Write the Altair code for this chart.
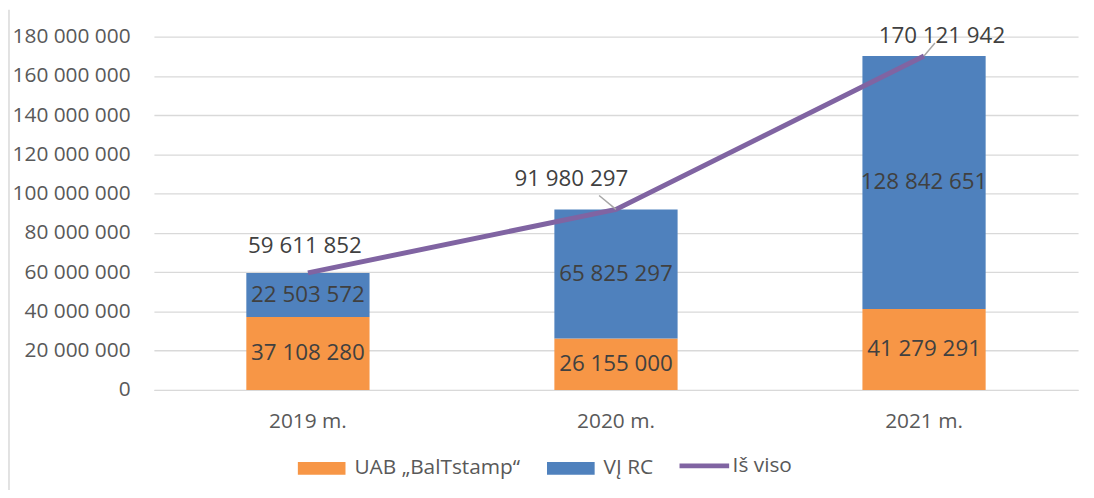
import altair as alt
import pandas as pd

years = ["2019 m.", "2020 m.", "2021 m."]
series = ["UAB „BalTstamp“", "VĮ RC"]
balt = [37108280, 26155000, 41279291]
vjrc = [22503572, 65825297, 128842651]
total = [59611852, 91980297, 170121942]
line_name = "Iš viso"
y_ticks = [0, 20000000, 40000000, 60000000, 80000000, 100000000,
           120000000, 140000000, 160000000, 180000000]

colors_bar = ["#F79646", "#4F81BD"]
color_line = "#8064A2"
FONT = "Open Sans"
AX = 21
DL = 22.5

rows = []
for i, y in enumerate(years):
    rows.append({"year": y, "series": series[0], "value": balt[i], "ord": 0})
    rows.append({"year": y, "series": series[1], "value": vjrc[i], "ord": 1})
bars_df = pd.DataFrame(rows)
tot_df = pd.DataFrame({"year": years, "total": total, "series": [line_name] * 3})

fmt = "replace(replace(replace(format(%s, ','), ',', ' '), ',', ' '), ',', ' ')"

x_axis = alt.Axis(labelAngle=0, labelFontSize=AX, labelColor="#595959",
                  labelFont=FONT, ticks=False, domain=True, grid=False,
                  domainColor="#d9d9d9", labelPadding=21)
y_axis = alt.Axis(values=y_ticks, labelExpr=fmt % "datum.value",
                  labelFontSize=AX, labelColor="#595959", labelFont=FONT,
                  labelOverlap=False,
                  ticks=False, domain=False, gridColor="#d9d9d9",
                  gridWidth=1.3, labelPadding=24)
x_scale = alt.Scale(paddingInner=0.6, paddingOuter=0.3)
y_scale = alt.Scale(domain=[0, 180000000], nice=False)

def xo():
    return alt.X("year:N", sort=years, title=None, scale=x_scale, axis=x_axis)

def yo(field, **kw):
    return alt.Y(field, scale=y_scale, title=None, axis=y_axis, **kw)

bars = alt.Chart(bars_df).mark_bar(strokeWidth=0).encode(
    x=xo(),
    y=yo("value:Q", stack="zero"),
    fill=alt.Fill("series:N", sort=series,
                  scale=alt.Scale(domain=series, range=colors_bar),
                  legend=alt.Legend(title=None, orient="none", legendX=145, legendY=411,
                                    direction="horizontal",
                                    symbolType="M-1,-0.27H1V0.27H-1Z",
                                    symbolSize=2304, symbolStrokeWidth=0,
                                    labelFontSize=AX, labelColor="#595959",
                                    labelFont=FONT, labelOffset=9, labelLimit=400,
                                    columnPadding=26)),
    order=alt.Order("ord:Q"),
)

line = alt.Chart(tot_df).mark_line(strokeWidth=5).encode(
    x=xo(),
    y=yo("total:Q"),
    stroke=alt.Stroke("series:N",
                      scale=alt.Scale(domain=[line_name], range=[color_line]),
                      legend=alt.Legend(title=None, orient="none", legendX=527, legendY=405,
                                        symbolType="stroke", symbolSize=2500,
                                        symbolStrokeWidth=5, labelLimit=400,
                                        labelFontSize=AX, labelColor="#595959",
                                        labelFont=FONT, labelOffset=1)),
)

seg_text = alt.Chart(bars_df).transform_stack(
    stack="value", groupby=["year"], as_=["v0", "v1"], sort=[alt.SortField("ord")]
).transform_calculate(
    mid="(datum.v0 + datum.v1) / 2",
    lab=fmt % "datum.value",
).mark_text(fontSize=DL, font=FONT, color="#404040", baseline="middle").encode(
    x=xo(),
    y=yo("mid:Q"),
    text="lab:N",
)

def total_label(year, dx, dy):
    return alt.Chart(tot_df).transform_filter(
        alt.datum.year == year
    ).transform_calculate(lab=fmt % "datum.total").mark_text(
        fontSize=DL, font=FONT, color="#404040", baseline="middle", dx=dx, dy=dy
    ).encode(x=xo(), y=yo("total:Q"), text="lab:N")

def leader(year, ox, oy):
    return alt.Chart(tot_df).transform_filter(
        alt.datum.year == year
    ).mark_rule(color="#a6a6a6", strokeWidth=1.5, x2Offset=ox, y2Offset=oy).encode(
        x=xo(), y=yo("total:Q"),
        x2=alt.X2("year:N"), y2=alt.Y2("total:Q"),
    )

border = alt.Chart(pd.DataFrame({"a": [0]})).mark_rule(color="#d9d9d9", strokeWidth=1.5).encode(
    x=alt.value(-146), y=alt.value(-27), y2=alt.value(470)
)

chart = alt.layer(
    bars, line, seg_text,
    leader(years[1], -17, -14), leader(years[2], 11, -13),
    total_label(years[0], -3, -27), total_label(years[1], -45, -31),
    total_label(years[2], 18, -20),
    border,
).resolve_scale(fill="independent", stroke="independent").properties(
    width=931, height=356,
    autosize=alt.AutoSizeParams(type="none"),
    padding={"left": 147, "top": 27, "right": 8, "bottom": 99},
).configure(font=FONT).configure_view(stroke=None).configure_axis(
    labelOverlap=False
).configure_axisX(grid=False)

chart.save("out.html", embed_options={"renderer": "svg", "actions": False})
